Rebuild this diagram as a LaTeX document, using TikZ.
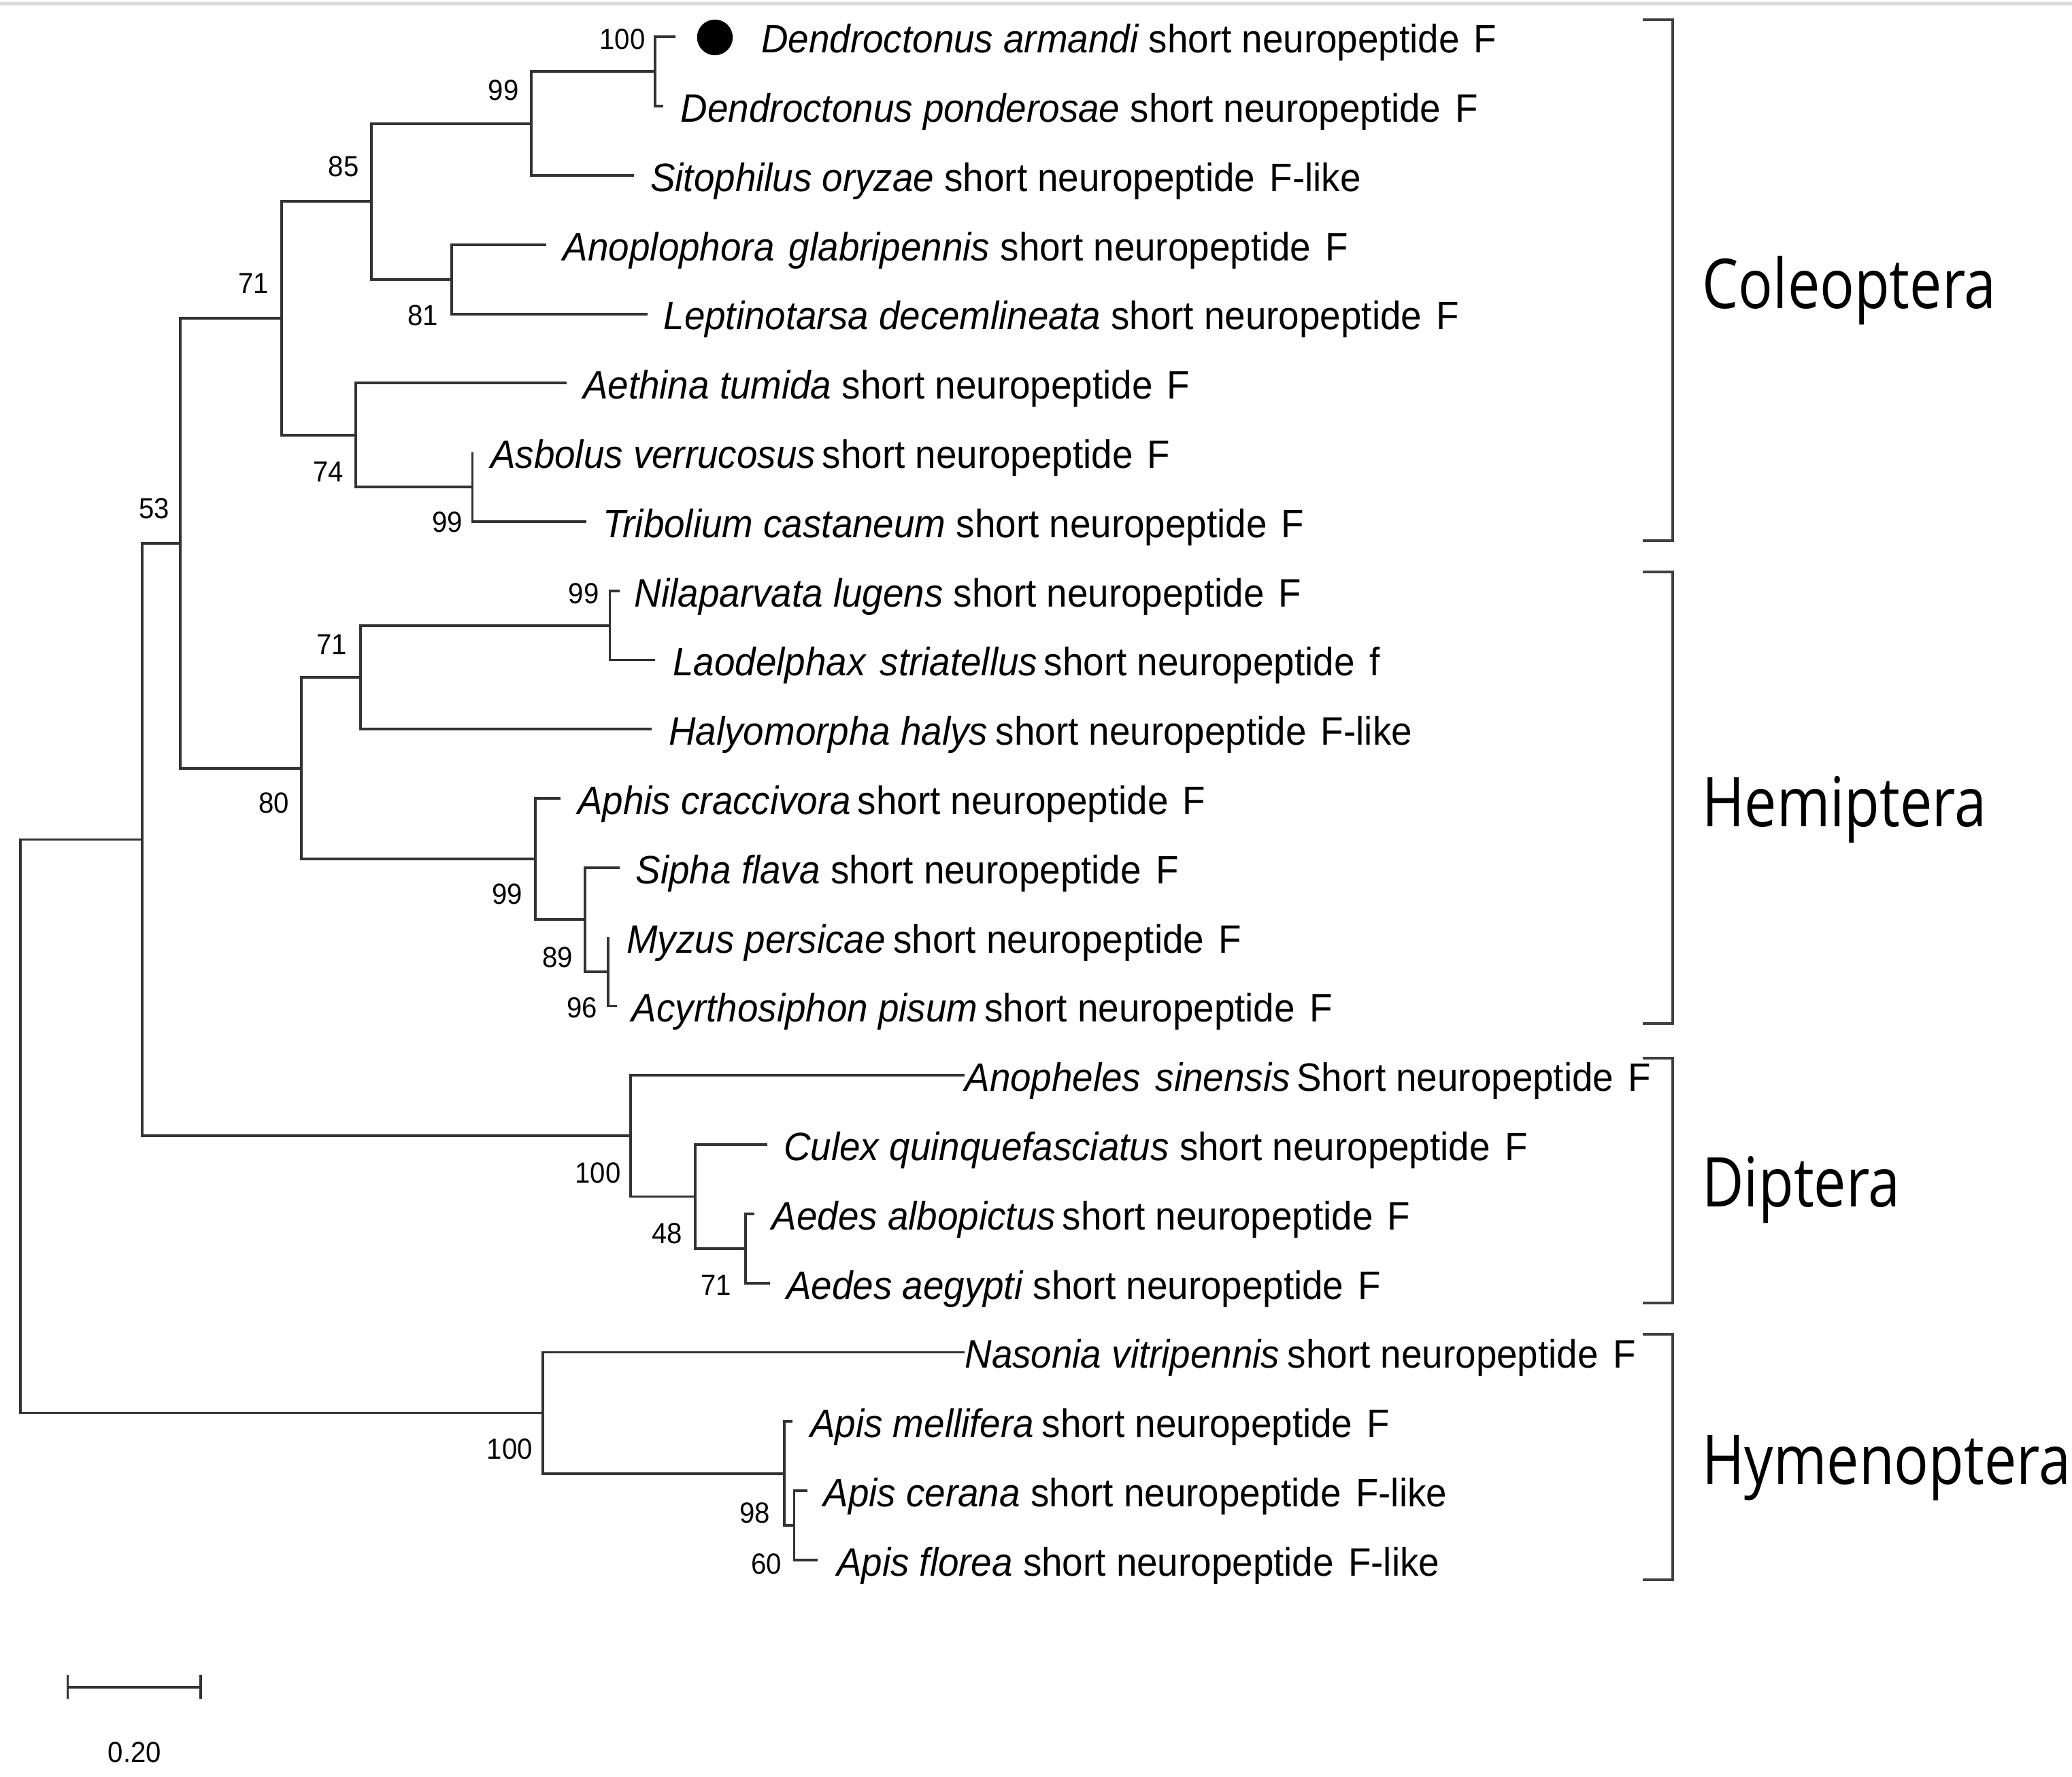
\documentclass[tikz,border=0pt]{standalone}
\usepackage{fontspec}
\newfontfamily\leaffont[FakeStretch=0.94]{Liberation Sans}
\newfontfamily\groupfont[FakeStretch=0.835]{Open Sans}
\newcommand\taxlab[2]{{\itshape #1} #2}
\begin{document}
\begin{tikzpicture}[x=1pt,y=-1pt,
  br/.style={draw=black!80, line width=2pt, line join=miter},
  leaflab/.style={anchor=base west, inner sep=0pt, font=\leaffont\fontsize{30}{34}\selectfont},
  boot/.style={anchor=center, inner sep=0pt, font=\leaffont\fontsize{22}{26}\selectfont},
  grp/.style={anchor=base west, inner sep=0pt, font=\groupfont\fontsize{52}{60}\selectfont},
  bracket/.style={draw=black!75, line width=2pt}]
\useasboundingbox (0,0) rectangle (1568,1345);
\fill[white] (0,0) rectangle (1568,1345);
\draw[gray!30, line width=2.5pt] (0,3) -- (1568,3);

% leaf tips
\coordinate (t1) at (511,28);
\coordinate (t2) at (502,80.4);
\coordinate (t3) at (480,132.8);
\coordinate (t4) at (413.5,185.2);
\coordinate (t5) at (490,237.6);
\coordinate (t6) at (429,290);
\coordinate (t7) at (357.5,342.4);
\coordinate (t8) at (443.5,394.8);
\coordinate (t9) at (468.8,447.2);
\coordinate (t10) at (495.5,499.6);
\coordinate (t11) at (493,552);
\coordinate (t12) at (424,604.4);
\coordinate (t13) at (468.8,656.8);
\coordinate (t14) at (460.4,709.2);
\coordinate (t15) at (467,761.6);
\coordinate (t16) at (730,814);
\coordinate (t17) at (580.5,866.4);
\coordinate (t18) at (571,918.8);
\coordinate (t19) at (582.6,971.2);
\coordinate (t20) at (730,1023.6);
\coordinate (t21) at (599.7,1076);
\coordinate (t22) at (611,1128.4);
\coordinate (t23) at (619,1180.8);

% internal nodes
\coordinate (nA) at (495.5,54.2);
\coordinate (nB) at (402,93.5);
\coordinate (nD) at (342,211.4);
\coordinate (nC) at (281,152.45);
\coordinate (nG) at (357.5,368.6);
\coordinate (nF) at (269,329.3);
\coordinate (nE) at (213,240.9);
\coordinate (nK) at (461.5,473.4);
\coordinate (nJ) at (272.7,512.7);
\coordinate (nN) at (460.4,735.4);
\coordinate (nM) at (442.8,696.1);
\coordinate (nL) at (405,650.25);
\coordinate (nI) at (228.2,581.5);
\coordinate (nH) at (136.5,411.2);
\coordinate (nR) at (564.2,945);
\coordinate (nQ) at (526.2,905.7);
\coordinate (nP) at (477.2,859.85);
\coordinate (nO) at (107.6,635.5);
\coordinate (nU) at (601,1154.6);
\coordinate (nT) at (593.3,1115.3);
\coordinate (nS) at (410.6,1069.45);
\coordinate (root) at (15.5,852.5);

% branches
\draw[br] (nA) |- (t1); \draw[br] (nA) |- (t2);
\draw[br] (nB) |- (nA); \draw[br] (nB) |- (t3);
\draw[br] (nD) |- (t4); \draw[br] (nD) |- (t5);
\draw[br] (nC) |- (nB); \draw[br] (nC) |- (nD);
\draw[br] (nG) |- (t7); \draw[br] (nG) |- (t8);
\draw[br] (nF) |- (t6); \draw[br] (nF) |- (nG);
\draw[br] (nE) |- (nC); \draw[br] (nE) |- (nF);
\draw[br] (nK) |- (t9); \draw[br] (nK) |- (t10);
\draw[br] (nJ) |- (nK); \draw[br] (nJ) |- (t11);
\draw[br] (nN) |- (t14); \draw[br] (nN) |- (t15);
\draw[br] (nM) |- (t13); \draw[br] (nM) |- (nN);
\draw[br] (nL) |- (t12); \draw[br] (nL) |- (nM);
\draw[br] (nI) |- (nJ); \draw[br] (nI) |- (nL);
\draw[br] (nH) |- (nE); \draw[br] (nH) |- (nI);
\draw[br] (nR) |- (t18); \draw[br] (nR) |- (t19);
\draw[br] (nQ) |- (t17); \draw[br] (nQ) |- (nR);
\draw[br] (nP) |- (t16); \draw[br] (nP) |- (nQ);
\draw[br] (nO) |- (nH); \draw[br] (nO) |- (nP);
\draw[br] (nU) |- (t22); \draw[br] (nU) |- (t23);
\draw[br] (nT) |- (t21); \draw[br] (nT) |- (nU);
\draw[br] (nS) |- (t20); \draw[br] (nS) |- (nT);
\draw[br] (root) |- (nO); \draw[br] (root) |- (nS);

% marker
\node[circle, fill=black, minimum size=27pt, inner sep=0pt] (dot) at (541,28.3) {};

% leaf labels
\node[leaflab] (l1) at (576,40) {\taxlab{Dendroctonus armandi}{short neuropeptide\hspace{11pt}F}};
\node[leaflab] (l2) at (515,92.4) {\taxlab{Dendroctonus ponderosae}{short neuropeptide\hspace{11pt}F}};
\node[leaflab] (l3) at (492,144.8) {\taxlab{Sitophilus oryzae}{short neuropeptide\hspace{11pt}F-like}};
\node[leaflab] (l4) at (426,197.2) {\taxlab{Anoplophora\hspace{11pt}glabripennis}{short neuropeptide\hspace{11pt}F}};
\node[leaflab] (l5) at (502,249.6) {\taxlab{Leptinotarsa decemlineata}{short neuropeptide\hspace{11pt}F}};
\node[leaflab] (l6) at (441,302) {\taxlab{Aethina tumida}{short neuropeptide\hspace{11pt}F}};
\node[leaflab] (l7) at (371,354.4) {{\itshape Asbolus verrucosus}\hspace{5pt}short neuropeptide\hspace{11pt}F};
\node[leaflab] (l8) at (456,406.8) {\taxlab{Tribolium castaneum}{short neuropeptide\hspace{11pt}F}};
\node[leaflab] (l9) at (480,459.2) {\taxlab{Nilaparvata lugens}{short neuropeptide\hspace{11pt}F}};
\node[leaflab] (l10) at (509,511.6) {{\itshape Laodelphax\hspace{11pt}striatellus}\hspace{5pt}short neuropeptide\hspace{11pt}f};
\node[leaflab] (l11) at (506,564) {{\itshape Halyomorpha halys}\hspace{6pt}short neuropeptide\hspace{11pt}F-like};
\node[leaflab] (l12) at (437,616.4) {{\itshape Aphis craccivora}\hspace{5pt}short neuropeptide\hspace{11pt}F};
\node[leaflab] (l13) at (481,668.8) {\taxlab{Sipha flava}{short neuropeptide\hspace{11pt}F}};
\node[leaflab] (l14) at (474,721.2) {{\itshape Myzus persicae}\hspace{6pt}short neuropeptide\hspace{11pt}F};
\node[leaflab] (l15) at (478,773.6) {{\itshape Acyrthosiphon pisum}\hspace{5pt}short neuropeptide\hspace{11pt}F};
\node[leaflab] (l16) at (730,826) {{\itshape Anopheles\hspace{11pt}sinensis}\hspace{5pt}Short neuropeptide\hspace{11pt}F};
\node[leaflab] (l17) at (593,878.4) {\taxlab{Culex quinquefasciatus}{short neuropeptide\hspace{11pt}F}};
\node[leaflab] (l18) at (584,930.8) {{\itshape Aedes albopictus}\hspace{5pt}short neuropeptide\hspace{11pt}F};
\node[leaflab] (l19) at (595,983.2) {\taxlab{Aedes aegypti}{short neuropeptide\hspace{11pt}F}};
\node[leaflab] (l20) at (730,1035.6) {{\itshape Nasonia vitripennis}\hspace{6pt}short neuropeptide\hspace{11pt}F};
\node[leaflab] (l21) at (613,1088) {{\itshape Apis mellifera}\hspace{6pt}short neuropeptide\hspace{11pt}F};
\node[leaflab] (l22) at (623,1140.4) {\taxlab{Apis cerana}{short neuropeptide\hspace{11pt}F-like}};
\node[leaflab] (l23) at (633,1192.8) {\taxlab{Apis florea}{short neuropeptide\hspace{11pt}F-like}};

% bootstrap values
\node[boot] (bA) at (471,29.6) {100};
\node[boot] (bB) at (381,68.6) {99};
\node[boot] (bC) at (260,126) {85};
\node[boot] (bE) at (192,214.7) {71};
\node[boot] (bD) at (320,238.7) {81};
\node[boot] (bF) at (248.5,357) {74};
\node[boot] (bG) at (338.6,395) {99};
\node[boot] (bH) at (116.8,385) {53};
\node[boot] (bK) at (441.8,449.5) {99};
\node[boot] (bJ) at (251,488) {71};
\node[boot] (bI) at (207.3,608) {80};
\node[boot] (bL) at (384,677) {99};
\node[boot] (bM) at (421.8,724.5) {89};
\node[boot] (bN) at (440.6,763) {96};
\node[boot] (bP) at (452.4,888) {100};
\node[boot] (bQ) at (504.7,933.6) {48};
\node[boot] (bR) at (542,973) {71};
\node[boot] (bS) at (385.8,1097) {100};
\node[boot] (bT) at (571.3,1145.4) {98};
\node[boot] (bU) at (580,1184) {60};

% scale bar
\coordinate (sb1) at (51.2,1277);
\coordinate (sb2) at (152,1277);
\draw[br] (sb1) -- (sb2);
\draw[br] ([yshift=9pt]sb1) -- ([yshift=-9pt]sb1);
\draw[br] ([yshift=9pt]sb2) -- ([yshift=-9pt]sb2);
\node[boot] (sbl) at (101.9,1326.5) {0.20};

% group brackets
\coordinate (colT) at (1243,15);     \coordinate (colB) at (1243,409.3);
\coordinate (hemT) at (1243,433);    \coordinate (hemB) at (1243,774.6);
\coordinate (dipT) at (1243,800.9);  \coordinate (dipB) at (1243,986.4);
\coordinate (hymT) at (1243,1010);   \coordinate (hymB) at (1243,1195.6);
\draw[bracket] (colT) -- ++(23,0) |- (colB);
\draw[bracket] (hemT) -- ++(23,0) |- (hemB);
\draw[bracket] (dipT) -- ++(23,0) |- (dipB);
\draw[bracket] (hymT) -- ++(23,0) |- (hymB);

\node[grp] (gCol) at (1288,233.4) {Coleoptera};
\node[grp] (gHem) at (1288,625.5) {Hemiptera};
\node[grp] (gDip) at (1288,913.5) {Diptera};
\node[grp] (gHym) at (1288,1123.3) {Hymenoptera};
\end{tikzpicture}
\end{document}
